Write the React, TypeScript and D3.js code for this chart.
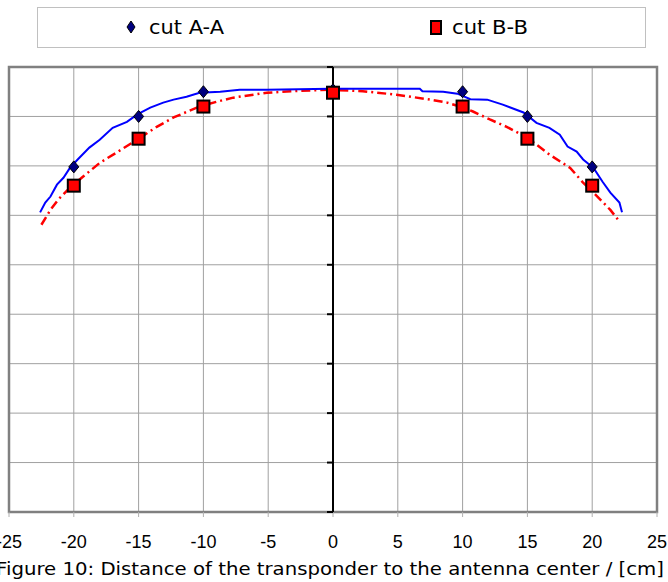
import React, { useEffect, useRef } from "react";
import * as d3 from "d3";

// x ticks (cm)
const xTicks = [-25, -20, -15, -10, -5, 0, 5, 10, 15, 20, 25];

// measured points (markers)
const markerX = [-20, -15, -10, 0, 10, 15, 20];
const cutA = [69.8, 80.0, 85.0, 85.4, 85.0, 80.0, 69.8];
const cutB = [66.0, 75.5, 82.0, 84.8, 82.0, 75.5, 66.0];

// continuous curves
const curveAx = [-22.6, -22.2, -21.8, -21.3, -20.8, -20.3, -19.7, -18.8, -18.0, -17.0, -15.9, -15.1, -14.1, -13.1, -12.3, -11.3, -10.3, -8.7, -7.2, -5.1, -0.2, 6.7, 6.9, 8.5, 9.6, 10.6, 11.9, 13.1, 14.7, 15.7, 16.7, 17.5, 18.1, 18.8, 19.3, 20.1, 20.8, 21.4, 22.1, 22.3];
const curveAy = [60.6, 62.6, 63.8, 66.2, 67.6, 69.6, 71.3, 73.7, 75.3, 77.7, 78.9, 80.4, 81.8, 82.8, 83.4, 84.0, 84.8, 85.0, 85.4, 85.4, 85.6, 85.6, 85.1, 85.0, 84.6, 83.5, 83.4, 82.4, 80.8, 78.7, 77.7, 76.3, 73.9, 72.9, 71.3, 69.6, 66.8, 64.6, 62.6, 60.6];
const curveBx = [-22.5, -21.8, -21.2, -20.3, -19.3, -18.0, -16.7, -15.0, -13.6, -12.3, -10.3, -8.95, -7.7, -5.1, -2.5, -0.2, 2.3, 4.9, 7.5, 8.8, 9.8, 10.8, 12.1, 13.4, 15.0, 16.7, 18.3, 19.3, 20.4, 21.4, 22.0];
const curveBy = [58.1, 61.1, 63.2, 65.6, 67.8, 70.6, 72.7, 75.5, 77.9, 79.8, 82.0, 83.0, 83.8, 84.8, 85.2, 85.4, 85.1, 84.4, 83.4, 82.8, 82.0, 81.0, 79.4, 77.9, 75.7, 72.3, 69.6, 66.6, 63.8, 61.1, 59.1];

const yTicks = [0, 10, 20, 30, 40, 50, 60, 70, 80, 90];

const App = () => {
  const svgRef = useRef<SVGSVGElement>(null);

  useEffect(() => {
    const svg = d3.select(svgRef.current);
    svg.selectAll("*").remove();

    const x = d3.scaleLinear().domain([-25, 25]).range([9, 657]);
    const y = d3.scaleLinear().domain([0, 90]).range([512, 67]);

    // legend box
    const leg = svg.append("g");
    leg.append("rect").attr("x", 37.5).attr("y", 7.5).attr("width", 608).attr("height", 40)
      .attr("fill", "#fff").attr("stroke", "#c0c0c0").attr("stroke-width", 1);
    leg.append("path").attr("d", "M131,21 L135,27 L131,33 L127,27 Z")
      .attr("fill", "#000080").attr("stroke", "#000").attr("stroke-width", 1);
    leg.append("text").attr("x", 149).attr("y", 34).text("cut A-A")
      .attr("textLength", 75).attr("lengthAdjust", "spacingAndGlyphs")
      .style("font", "20px 'DejaVu Sans'");
    leg.append("rect").attr("x", 431).attr("y", 21).attr("width", 10).attr("height", 13)
      .attr("fill", "#ff0000").attr("stroke", "#000").attr("stroke-width", 2);
    leg.append("text").attr("x", 452).attr("y", 34).text("cut B-B")
      .attr("textLength", 76).attr("lengthAdjust", "spacingAndGlyphs")
      .style("font", "20px 'DejaVu Sans'");

    // grid
    svg.append("g").selectAll("line.v").data(xTicks.slice(1, -1)).join("line")
      .attr("x1", d => x(d)).attr("x2", d => x(d)).attr("y1", y(90)).attr("y2", y(0))
      .attr("stroke", "#a0a0a0").attr("stroke-width", 1);
    svg.append("g").selectAll("line.h").data(yTicks.slice(1, -1)).join("line")
      .attr("x1", x(-25)).attr("x2", x(25)).attr("y1", d => y(d)).attr("y2", d => y(d))
      .attr("stroke", "#a0a0a0").attr("stroke-width", 1);

    // frame
    svg.append("rect").attr("x", x(-25)).attr("y", y(90))
      .attr("width", x(25) - x(-25)).attr("height", y(0) - y(90))
      .attr("fill", "none").attr("stroke", "#808080").attr("stroke-width", 2.5);

    // x axis ticks under frame
    svg.append("g").selectAll("line").data(xTicks).join("line")
      .attr("x1", d => x(d)).attr("x2", d => x(d)).attr("y1", y(0)).attr("y2", y(0) + 5)
      .attr("stroke", "#b0b0b0").attr("stroke-width", 1);
    svg.append("g").selectAll("text").data(xTicks).join("text")
      .attr("x", d => x(d)).attr("y", 548).attr("text-anchor", "middle")
      .style("font", "18px 'Liberation Sans'")
      .text(d => d);

    // y axis at x=0
    svg.append("line").attr("x1", x(0)).attr("x2", x(0)).attr("y1", y(90)).attr("y2", y(0))
      .attr("stroke", "#000").attr("stroke-width", 2);
    svg.append("g").selectAll("line").data(yTicks).join("line")
      .attr("x1", x(0) - 6).attr("x2", x(0)).attr("y1", d => y(d)).attr("y2", d => y(d))
      .attr("stroke", "#000").attr("stroke-width", 2);

    const line = d3.line<number>().x(d => x(d[0])).y(d => y(d[1]));

    svg.append("path")
      .attr("d", line(curveBx.map((v, i) => [v, curveBy[i]]) as any))
      .attr("fill", "none").attr("stroke", "#ff0000").attr("stroke-width", 2.5)
      .attr("stroke-dasharray", "9,4,2,4");
    svg.append("path")
      .attr("d", line(curveAx.map((v, i) => [v, curveAy[i]]) as any))
      .attr("fill", "none").attr("stroke", "#0000ff").attr("stroke-width", 2);

    // diamonds
    svg.append("g").selectAll("path").data(markerX.map((v, i) => [v, cutA[i]])).join("path")
      .attr("d", d => {
        const cx = x(d[0]), cy = y(d[1]);
        return `M${cx},${cy - 6} L${cx + 5},${cy} L${cx},${cy + 6} L${cx - 5},${cy} Z`;
      })
      .attr("fill", "#000080").attr("stroke", "#000").attr("stroke-width", 1);

    // squares
    svg.append("g").selectAll("rect").data(markerX.map((v, i) => [v, cutB[i]])).join("rect")
      .attr("x", d => x(d[0]) - 6).attr("y", d => y(d[1]) - 6)
      .attr("width", 12).attr("height", 12)
      .attr("fill", "#ff0000").attr("stroke", "#000").attr("stroke-width", 2);

    // caption
    svg.append("text").attr("x", -4).attr("y", 575)
      .attr("textLength", 668).attr("lengthAdjust", "spacingAndGlyphs")
      .style("font", "18px 'DejaVu Sans'")
      .text("Figure 10: Distance of the transponder to the antenna center / [cm]");
  }, []);

  return (
    <svg ref={svgRef} width="668" height="582"
      style={{ position: "absolute", left: 0, top: 0, background: "#fff" }}></svg>
  );
};

export default App;
